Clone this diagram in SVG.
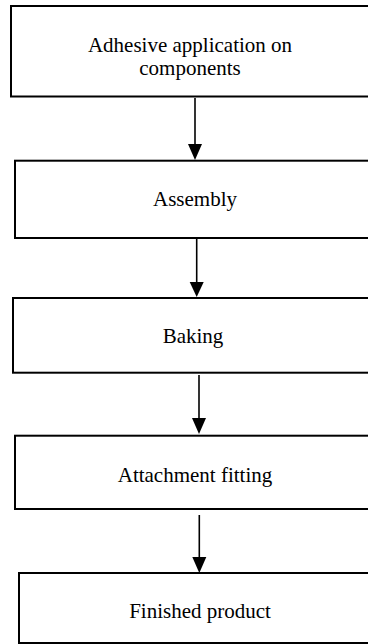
<svg xmlns="http://www.w3.org/2000/svg" width="368" height="644" viewBox="0 0 368 644">
<style>
.box{fill:#fff;stroke:#000;stroke-width:2}
.lbl{font-family:"Liberation Serif","Times New Roman",serif;font-size:21px;fill:#000;text-anchor:middle}
.ln{stroke:#000;stroke-width:1.6;fill:none}
.hd{fill:#000}
</style>
<rect width="368" height="644" fill="#fff"/>
<g id="n1"><rect class="box" x="11" y="6" width="360" height="90.5"/><text class="lbl" x="190" y="52">Adhesive application on</text><text class="lbl" x="190" y="74.5">components</text></g>
<g id="n2"><rect class="box" x="15" y="160.7" width="362" height="77.3"/><text class="lbl" x="195" y="206">Assembly</text></g>
<g id="n3"><rect class="box" x="13" y="298" width="362" height="74.7"/><text class="lbl" x="193" y="343.3">Baking</text></g>
<g id="n4"><rect class="box" x="15" y="435.7" width="362" height="73.3"/><text class="lbl" x="195" y="481.7">Attachment fitting</text></g>
<g id="n5"><rect class="box" x="19" y="573" width="364" height="70"/><text class="lbl" x="200" y="618.3">Finished product</text></g>
<g id="connectors">
<line class="ln" x1="195" y1="98" x2="195" y2="146"/><polygon class="hd" points="188,144 202,144 195,160"/>
<line class="ln" x1="196.7" y1="239" x2="196.7" y2="284"/><polygon class="hd" points="189.7,282 203.7,282 196.7,297"/>
<line class="ln" x1="199" y1="375" x2="199" y2="420"/><polygon class="hd" points="192,418 206,418 199,434"/>
<line class="ln" x1="199.3" y1="515" x2="199.3" y2="559"/><polygon class="hd" points="192.3,557 206.3,557 199.3,573"/>
</g>
</svg>
